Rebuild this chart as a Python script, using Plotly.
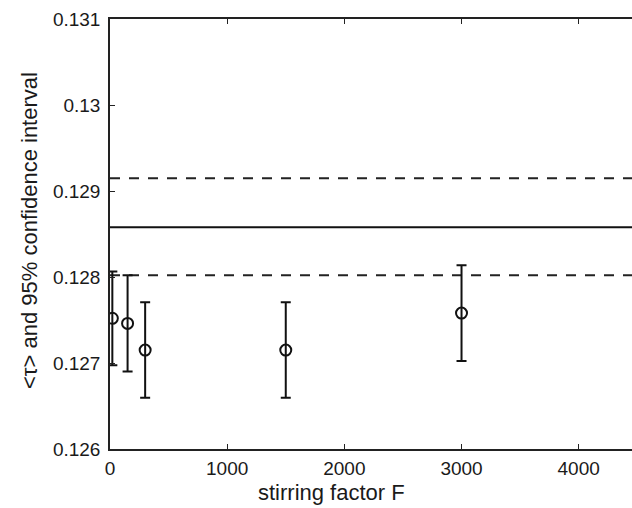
import plotly.graph_objects as go

# Data
stirring_F = [20, 150, 300, 1500, 3000]
tau_mean = [0.12752, 0.12746, 0.12715, 0.12715, 0.12758]
tau_ci_half = [0.000545, 0.00056, 0.000555, 0.000555, 0.000556]

overall_mean = 0.128578
overall_ci_upper = 0.129148
overall_ci_lower = 0.12802

x_range = [0, 4455]
y_range = [0.126, 0.131]
x_tickvals = [0, 1000, 2000, 3000, 4000]
x_ticktext = ["0", "1000", "2000", "3000", "4000"]
y_tickvals = [0.126, 0.127, 0.128, 0.129, 0.130, 0.131]
y_ticktext = ["0.126", "0.127", "0.128", "0.129", "0.13", "0.131"]
x_title = "stirring factor F"
y_title = "<τ> and 95% confidence interval"

fig = go.Figure()

# overall mean and its CI (solid + dashed lines)
fig.add_trace(go.Scatter(x=x_range, y=[overall_mean] * 2, mode="lines",
                         line=dict(color="#111111", width=2), showlegend=False,
                         hoverinfo="skip"))
for v in (overall_ci_upper, overall_ci_lower):
    fig.add_trace(go.Scatter(x=x_range, y=[v] * 2, mode="lines",
                             line=dict(color="#222222", width=2, dash="10px,9px"),
                             showlegend=False, hoverinfo="skip"))

fig.add_trace(go.Scatter(
    x=stirring_F, y=tau_mean, mode="markers",
    marker=dict(symbol="circle-open", size=11, color="#111111",
                line=dict(width=2, color="#111111")),
    error_y=dict(type="data", array=tau_ci_half, visible=True,
                 color="#111111", thickness=2, width=5),
    showlegend=False,
))

font_family = "Liberation Sans, Arial, sans-serif"
L, R, T, B = 110, 0, 19, 59
W, H = 632, 508
pw, ph = W - L - R, H - T - B

fig.update_layout(
    width=W, height=H,
    margin=dict(l=L, r=R, t=T, b=B),
    plot_bgcolor="white", paper_bgcolor="white",
    font=dict(family=font_family, size=19, color="#1a1a1a"),
    xaxis=dict(range=x_range, tickvals=x_tickvals, ticktext=x_ticktext,
               showgrid=False, zeroline=False, showline=True, linecolor="#222222",
               linewidth=1.5, mirror="ticks", ticks="inside", ticklen=5,
               tickcolor="#222222", tickwidth=1, ticklabelstandoff=1),
    yaxis=dict(range=y_range, tickvals=y_tickvals, ticktext=y_ticktext,
               showgrid=False, zeroline=False, showline=True, linecolor="#222222",
               linewidth=1.5, mirror=False, ticks="inside", ticklen=5,
               tickcolor="#222222", tickwidth=1, ticklabelstandoff=4),
    annotations=[
        dict(text=x_title, xref="paper", yref="paper",
             x=(331 - L) / pw, y=(H - B - 492) / ph, showarrow=False,
             xanchor="center", yanchor="middle", font=dict(size=22)),
        dict(text=y_title, xref="paper", yref="paper", textangle=-90,
             x=(30 - L) / pw, y=(H - B - 231) / ph, showarrow=False,
             xanchor="center", yanchor="middle", font=dict(size=22)),
    ],
)

fig.write_html("out.html")
